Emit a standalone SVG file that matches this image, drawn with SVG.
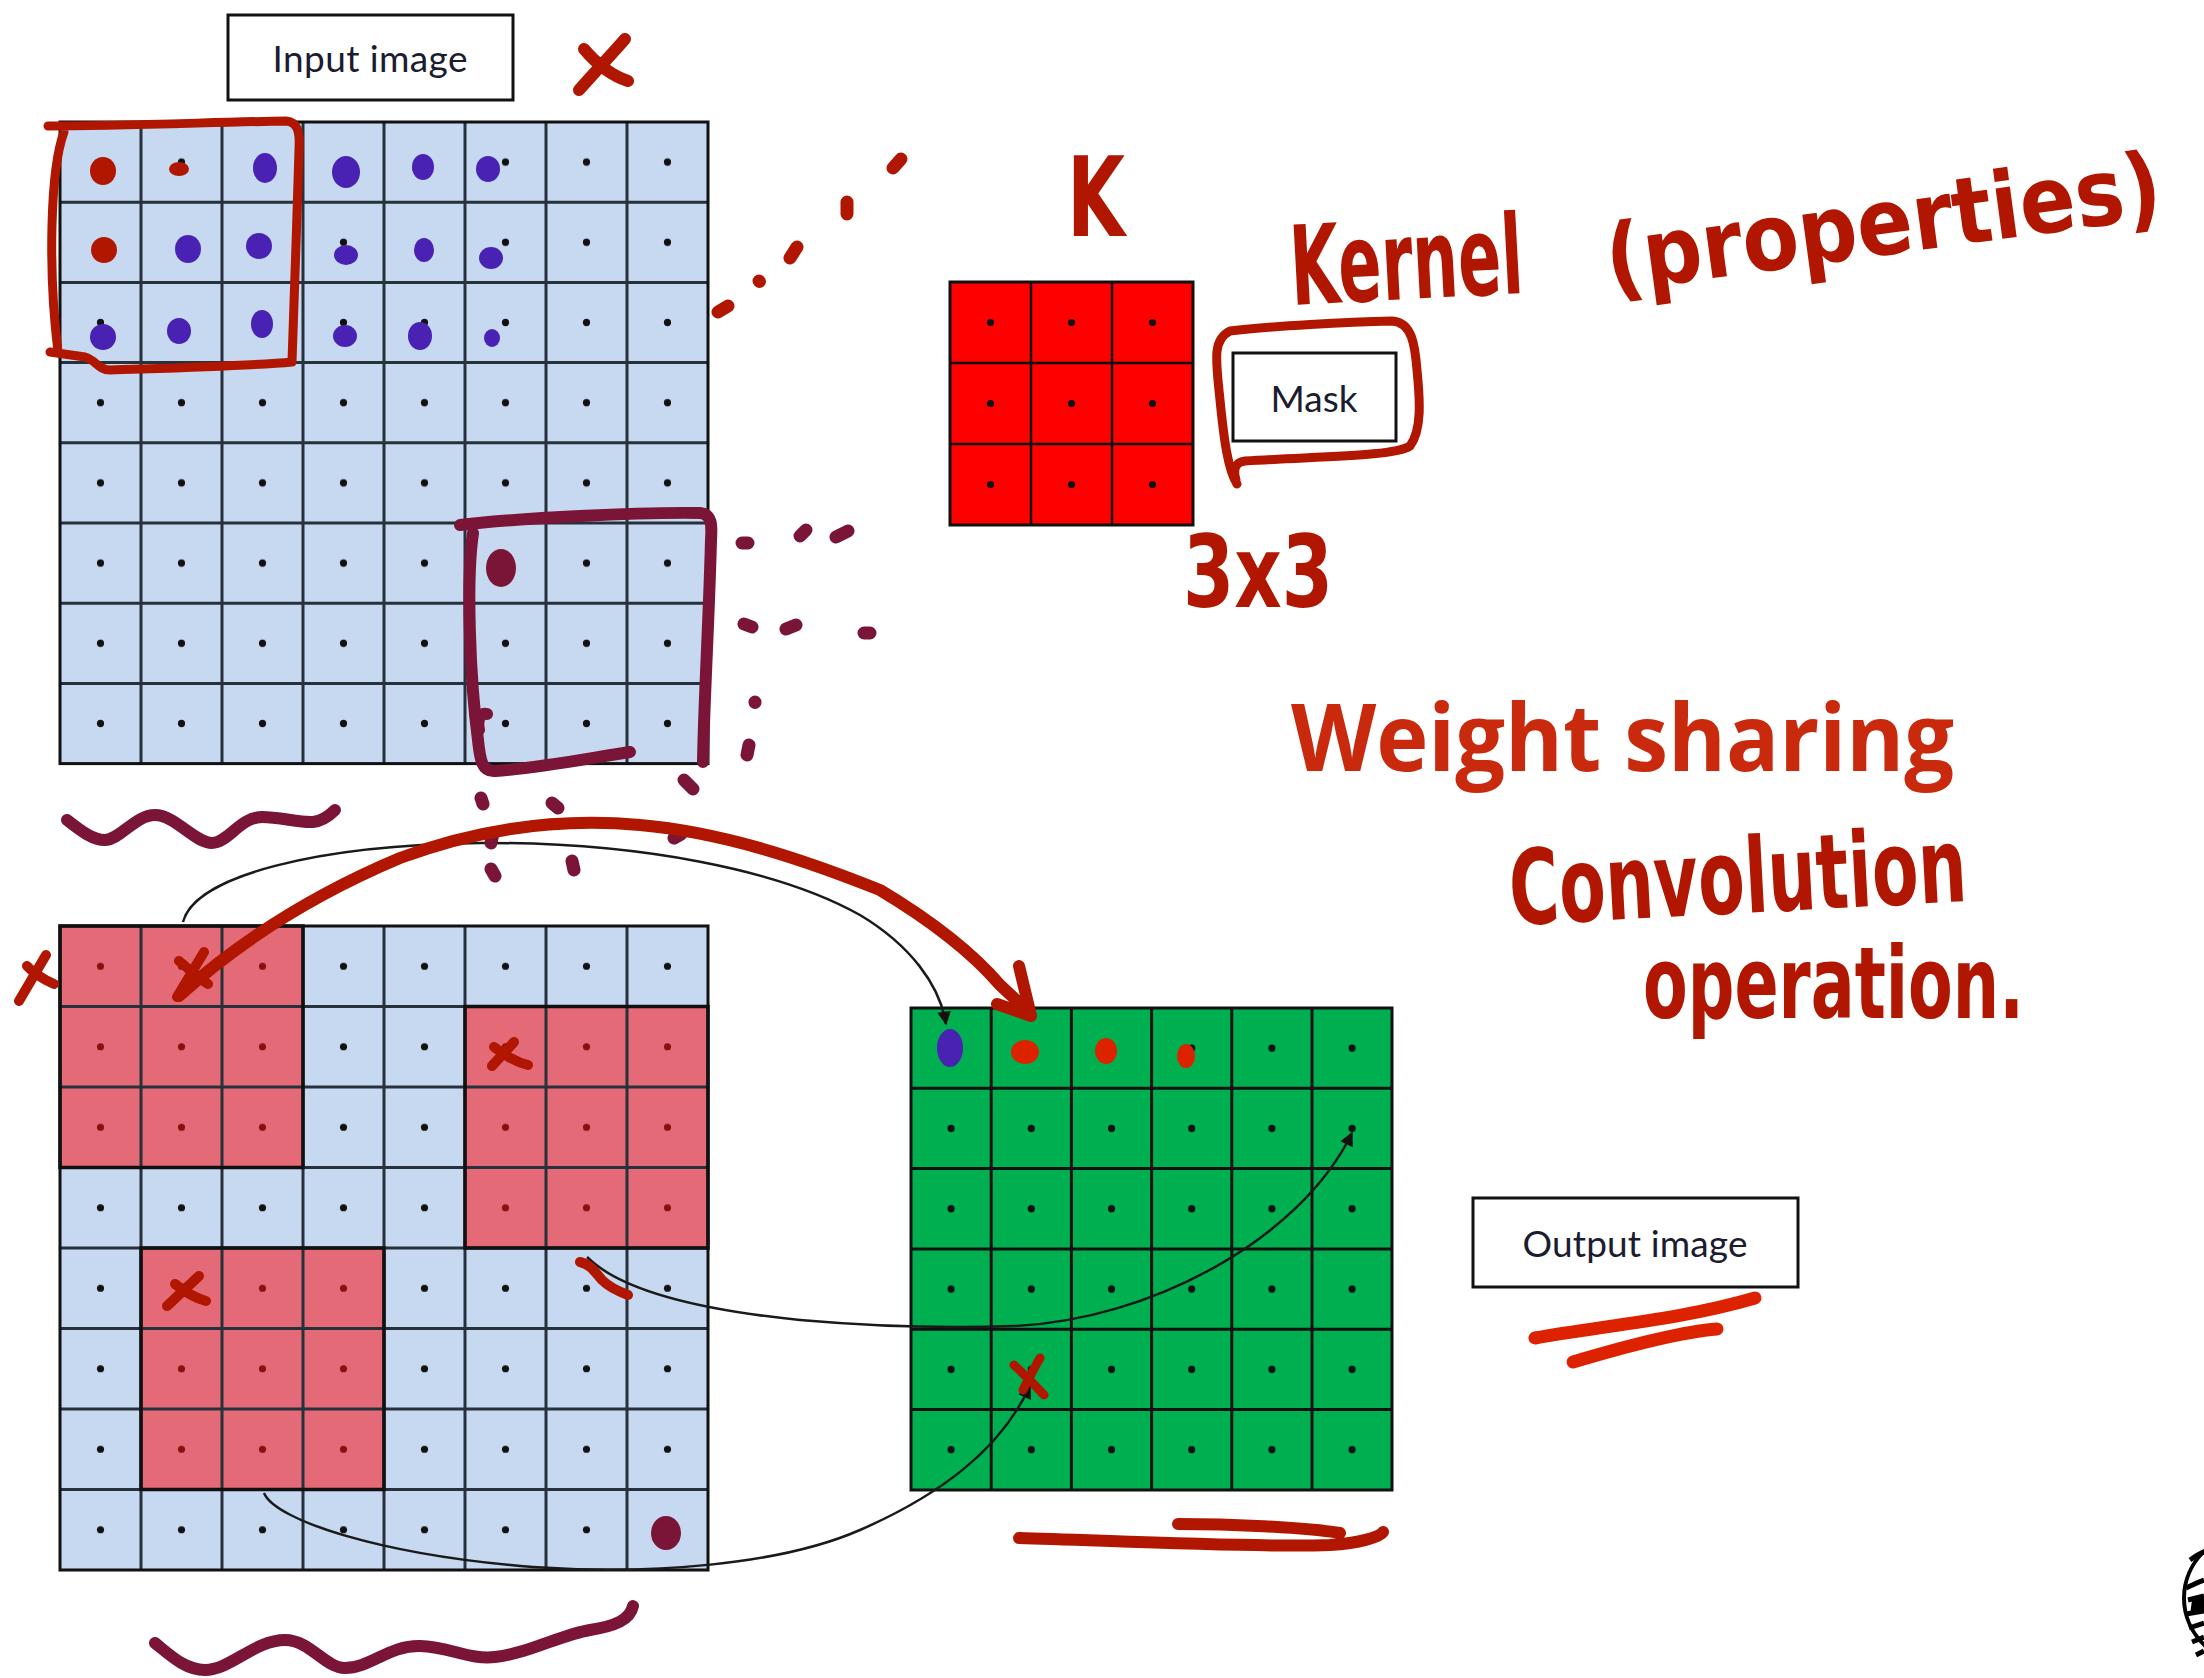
<svg xmlns="http://www.w3.org/2000/svg" width="2204" height="1678" viewBox="0 0 2204 1678">
  <style>
    .lbl { font-family: Lato, "Liberation Sans", sans-serif; font-size: 37px; fill: #1c1c30; }
    .box { fill: #ffffff; stroke: #111111; stroke-width: 3; }
    .gline { fill: none; stroke: #27313b; stroke-width: 3; }
    .ink { fill: none; stroke-linecap: round; stroke-linejoin: round; }
    .dred { stroke: #b01600; }
    .bred { stroke: #dd2200; }
    .maroon { stroke: #7a1538; }
    .hand { font-family: "DejaVu Sans Condensed", "DejaVu Sans", sans-serif; font-stretch: condensed; font-weight: bold; fill: #b01600; }
    .conn { fill: none; stroke: #1a1a1a; stroke-width: 2.5; }
  </style>
  <defs>
    <pattern id="dotTop" patternUnits="userSpaceOnUse" x="60" y="122" width="81" height="80.2">
      <circle cx="40.5" cy="40.1" r="3.6" fill="#111"/>
    </pattern>
    <pattern id="dotBot" patternUnits="userSpaceOnUse" x="60" y="926" width="81" height="80.5">
      <circle cx="40.5" cy="40.25" r="3.6" fill="#111"/>
    </pattern>
    <pattern id="dotBotRed" patternUnits="userSpaceOnUse" x="60" y="926" width="81" height="80.5">
      <circle cx="40.5" cy="40.25" r="3.6" fill="#8a1010"/>
    </pattern>
    <pattern id="dotGreen" patternUnits="userSpaceOnUse" x="911" y="1008" width="80.2" height="80.3">
      <circle cx="40.1" cy="40.15" r="3.6" fill="#111"/>
    </pattern>
    <pattern id="dotKernel" patternUnits="userSpaceOnUse" x="950" y="282" width="81" height="81">
      <circle cx="40.5" cy="40.5" r="3.6" fill="#111"/>
    </pattern>
    <marker id="ah" viewBox="0 0 10 10" refX="9" refY="5" markerWidth="6.5" markerHeight="5.5" orient="auto">
      <path d="M0,0 L10,5 L0,10 z" fill="#111"/>
    </marker>
    <clipPath id="edgeClip">
      <rect x="2170" y="1515" width="34" height="163"/>
    </clipPath>
  </defs>

  <rect width="2204" height="1678" fill="#ffffff"/>

  <!-- input image label -->
  <g id="input-label">
    <rect class="box" x="228" y="15" width="285" height="85"/>
    <text class="lbl" x="370" y="72" text-anchor="middle" textLength="195">Input image</text>
  </g>

  <!-- 8x8 input grid -->
  <g id="input-grid">
    <rect x="60" y="122" width="648" height="641.6" fill="#c6d9f1"/>
    <rect x="60" y="122" width="648" height="641.6" fill="url(#dotTop)"/>
    <path class="gline" d="M141,122V763.6M222,122V763.6M303,122V763.6M384,122V763.6M465,122V763.6M546,122V763.6M627,122V763.6M60,202.2H708M60,282.4H708M60,362.6H708M60,442.8H708M60,523H708M60,603.2H708M60,683.4H708"/>
    <rect x="60" y="122" width="648" height="641.6" fill="none" stroke="#111" stroke-width="3"/>
  </g>

  <!-- 3x3 kernel -->
  <g id="kernel">
    <rect x="950" y="282" width="243" height="243" fill="#ff0000"/>
    <rect x="950" y="282" width="243" height="243" fill="url(#dotKernel)"/>
    <path d="M1031,282V525M1112,282V525M950,363H1193M950,444H1193" stroke="#111" stroke-width="2.5" fill="none"/>
    <rect x="950" y="282" width="243" height="243" fill="none" stroke="#111" stroke-width="3"/>
  </g>

  <!-- mask label -->
  <g id="mask-label">
    <rect class="box" x="1233" y="353" width="163" height="88"/>
    <text class="lbl" x="1314" y="412" text-anchor="middle" textLength="87">Mask</text>
  </g>

  <!-- 8x8 grid with three highlighted 3x3 windows -->
  <g id="window-grid">
    <rect x="60" y="926" width="648" height="644" fill="#c6d9f1"/>
    <rect x="60" y="926" width="648" height="644" fill="url(#dotBot)"/>
    <g fill="#e36a76">
      <rect x="60" y="926" width="243" height="241.5"/>
      <rect x="465" y="1006.5" width="243" height="241.5"/>
      <rect x="141" y="1248" width="243" height="241.5"/>
    </g>
    <g fill="url(#dotBotRed)">
      <rect x="60" y="926" width="243" height="241.5"/>
      <rect x="465" y="1006.5" width="243" height="241.5"/>
      <rect x="141" y="1248" width="243" height="241.5"/>
    </g>
    <path class="gline" d="M141,926V1570M222,926V1570M303,926V1570M384,926V1570M465,926V1570M546,926V1570M627,926V1570M60,1006.5H708M60,1087H708M60,1167.5H708M60,1248H708M60,1328.5H708M60,1409H708M60,1489.5H708"/>
    <g fill="none" stroke="#111" stroke-width="3.5">
      <rect x="60" y="926" width="243" height="241.5"/>
      <rect x="465" y="1006.5" width="243" height="241.5"/>
      <rect x="141" y="1248" width="243" height="241.5"/>
    </g>
    <rect x="60" y="926" width="648" height="644" fill="none" stroke="#111" stroke-width="3"/>
  </g>

  <!-- 6x6 output grid -->
  <g id="output-grid">
    <rect x="911" y="1008" width="481" height="482" fill="#00b050"/>
    <rect x="911" y="1008" width="481" height="482" fill="url(#dotGreen)"/>
    <path d="M991.2,1008V1490M1071.4,1008V1490M1151.6,1008V1490M1231.8,1008V1490M1312,1008V1490M911,1088.3H1392M911,1168.6H1392M911,1248.9H1392M911,1329.2H1392M911,1409.5H1392" stroke="#111" stroke-width="3" fill="none"/>
    <rect x="911" y="1008" width="481" height="482" fill="none" stroke="#111" stroke-width="3"/>
  </g>

  <!-- output image label -->
  <g id="output-label">
    <rect class="box" x="1473" y="1198" width="325" height="89"/>
    <text class="lbl" x="1635" y="1257" text-anchor="middle" textLength="225">Output image</text>
  </g>

  <!-- typed title -->
  <g id="title">
    <text x="1291" y="771" font-family="'Open Sans', 'Liberation Sans', sans-serif" font-size="94" font-weight="bold" fill="#c9290c" textLength="663" lengthAdjust="spacingAndGlyphs">Weight sharing</text>
  </g>

  <!-- connectors: window to output cell -->
  <g id="connectors">
    <path class="conn" marker-end="url(#ah)" d="M183,922 C195,875 320,845 480,843 C640,842 780,870 860,915 C910,945 940,985 946,1024"/>
    <path class="conn" marker-end="url(#ah)" d="M587,1257 C620,1290 700,1310 800,1320 C880,1327 960,1328 1014,1326 C1150,1320 1300,1240 1352,1133"/>
    <path class="conn" marker-end="url(#ah)" d="M264,1493 C275,1520 380,1555 533,1567 C650,1575 780,1565 860,1530 C940,1495 1000,1450 1030,1386"/>
  </g>

  <!-- pen annotations -->
  <g id="annotations">
    <!-- cross by the input label -->
    <path class="ink dred" stroke-width="12" d="M579,90 C595,72 612,54 625,39 M584,49 C595,62 610,75 628,81"/>

    <!-- window outline on the input grid -->
    <path class="ink dred" stroke-width="9" d="M48,126 C120,126 220,122 286,121 C298,122 300,132 299,150 C297,220 294,300 292,362 C250,366 170,368 110,370 C98,370 96,360 85,357 L50,352 M64,132 C50,170 48,270 58,352"/>

    <!-- marks inside the input grid -->
    <g fill="#b01600">
      <ellipse cx="103" cy="171" rx="13" ry="14"/>
      <ellipse cx="179" cy="169" rx="10" ry="7"/>
      <ellipse cx="104" cy="250" rx="13" ry="13"/>
    </g>
    <g fill="#4a22b3">
      <ellipse cx="265" cy="168" rx="12" ry="15"/>
      <ellipse cx="346" cy="172" rx="14" ry="16"/>
      <ellipse cx="423" cy="167" rx="11" ry="13"/>
      <ellipse cx="488" cy="169" rx="12" ry="13"/>
      <ellipse cx="188" cy="249" rx="13" ry="14"/>
      <ellipse cx="259" cy="246" rx="13" ry="13"/>
      <ellipse cx="346" cy="255" rx="12" ry="10"/>
      <ellipse cx="424" cy="250" rx="10" ry="12"/>
      <ellipse cx="491" cy="258" rx="12" ry="11"/>
      <ellipse cx="103" cy="337" rx="13" ry="13"/>
      <ellipse cx="179" cy="331" rx="12" ry="13"/>
      <ellipse cx="262" cy="324" rx="11" ry="14"/>
      <ellipse cx="345" cy="336" rx="12" ry="11"/>
      <ellipse cx="420" cy="336" rx="12" ry="14"/>
      <ellipse cx="492" cy="338" rx="8" ry="9"/>
    </g>

    <!-- trail towards the kernel -->
    <path class="ink dred" stroke-width="13" d="M718,312 L728,306 M759,281 L759.5,281.5 M790,258 L797,247 M847,202 L847,214 M893,168 L901,159"/>

    <!-- second window outline -->
    <path class="ink maroon" stroke-width="12" d="M460,525 C520,518 640,512 700,513 C712,514 712,525 711,540 C709,620 704,700 703,762 M473,533 C466,580 470,680 478,740 C480,760 482,772 495,771 C540,768 590,758 630,752 M487,714 C480,712 477,720 479,730"/>
    <ellipse cx="501" cy="568" rx="15" ry="19" fill="#7a1538"/>
    <path class="ink maroon" stroke-width="13" d="M742,543 L748,543 M800,536 L806,530 M836,537 L848,531 M744,624 L752,627 M786,629 L796,625 M864,633 L870,633 M755,702 L755,702.5 M749,745 L747,755 M684,780 L693,789 M481,798 L483,804 M552,803 L558,808 M493,833 L491,843 M674,838 L681,834 M491,869 L495,876 M572,861 L574,870"/>

    <!-- underline waves -->
    <path class="ink maroon" stroke-width="12" d="M67,820 C80,830 92,840 105,840 C120,840 135,815 155,815 C175,815 195,843 212,843 C228,843 240,817 262,817 C280,817 300,823 313,822 C322,821 330,815 335,810"/>
    <path class="ink maroon" stroke-width="12" d="M155,1643 C170,1655 185,1670 205,1670 C230,1670 255,1640 285,1640 C310,1640 325,1668 345,1668 C370,1668 390,1645 420,1646 C450,1647 470,1660 495,1657 C530,1653 560,1635 590,1630 C615,1626 630,1620 633,1606"/>

    <!-- crosses on the window grid -->
    <path class="ink dred" stroke-width="10" d="M19,1001 L46,955 M27,966 C35,975 45,980 54,984 M177,997 L204,952 M179,961 C190,970 198,978 208,984 M492,1066 L514,1042 M494,1047 C505,1055 515,1062 528,1065 M167,1306 L199,1276 M175,1284 C185,1292 195,1298 206,1301"/>
    <path class="ink dred" stroke-width="10" d="M580,1262 C590,1264 595,1272 602,1280 C610,1288 620,1292 628,1295"/>
    <ellipse cx="666" cy="1533" rx="15" ry="17" fill="#7a1538"/>

    <!-- sweep from the first window to the output -->
    <path class="ink dred" stroke-width="12" d="M179,996 C230,950 300,900 400,858 C480,828 560,818 640,825 C720,832 800,858 880,890 C930,920 970,950 1000,985 L1029,1012 M997,1004 L1031,1016 L1019,966"/>

    <!-- marks on the output grid -->
    <ellipse cx="950" cy="1048" rx="13" ry="19" fill="#4a22b3"/>
    <g fill="#dd2200">
      <ellipse cx="1025" cy="1052" rx="14" ry="12"/>
      <ellipse cx="1106" cy="1051" rx="11" ry="13"/>
      <ellipse cx="1186" cy="1056" rx="9" ry="12"/>
    </g>
    <path class="ink dred" stroke-width="9" d="M1014,1365 C1025,1375 1035,1385 1044,1395 M1040,1358 C1033,1370 1028,1380 1023,1390"/>
    <path class="ink dred" stroke-width="12" d="M1019,1538 C1100,1540 1250,1548 1330,1545 C1360,1543 1380,1537 1383,1532 M1178,1524 C1230,1524 1300,1527 1340,1533"/>

    <!-- loop round the mask label -->
    <path class="ink dred" stroke-width="9" d="M1237,484 C1228,470 1224,440 1220,400 C1216,360 1212,340 1230,331 C1270,326 1350,322 1392,321 C1412,322 1415,345 1417,370 C1420,400 1422,430 1410,446 C1395,456 1330,456 1245,461 C1235,462 1233,470 1236,480"/>

    <!-- double underline of the output label -->
    <path class="ink bred" stroke-width="13" d="M1535,1338 C1600,1326 1680,1320 1755,1298 M1573,1362 C1620,1348 1680,1332 1717,1329"/>

    <!-- handwritten notes -->
    <text class="hand" x="1067" y="236" font-size="110" textLength="58" lengthAdjust="spacingAndGlyphs">K</text>
    <text class="hand" x="1292" y="305" font-size="110" textLength="233" lengthAdjust="spacingAndGlyphs" transform="rotate(-3 1292 305)">Kernel</text>
    <text class="hand" x="1610" y="292" font-size="93" textLength="560" lengthAdjust="spacingAndGlyphs" transform="rotate(-7.7 1610 292)">(properties)</text>
    <text class="hand" x="1183" y="607" font-size="100" textLength="150" lengthAdjust="spacingAndGlyphs">3x3</text>
    <text class="hand" x="1511" y="925" font-size="104" textLength="458" lengthAdjust="spacingAndGlyphs" transform="rotate(-3 1511 925)">Convolution</text>
    <text class="hand" x="1643" y="1018" font-size="100" textLength="381" lengthAdjust="spacingAndGlyphs">operation.</text>
  </g>

  <!-- emblem cut off at the right edge -->
  <g id="emblem" clip-path="url(#edgeClip)">
    <ellipse cx="2262" cy="1598" rx="78" ry="70" fill="#ffffff" stroke="#000" stroke-width="4"/>
    <path d="M2190,1560 C2196,1556 2200,1553 2204,1552 M2186,1588 C2192,1585 2198,1582 2204,1580 M2188,1600 L2204,1596 M2186,1614 L2204,1611 M2189,1628 L2204,1623 M2192,1642 L2204,1637 M2196,1655 L2204,1651" stroke="#000" stroke-width="5" fill="none"/>
    <path d="M2192,1600 L2204,1598 L2204,1612 L2190,1615 z" fill="#000"/>
  </g>
</svg>
